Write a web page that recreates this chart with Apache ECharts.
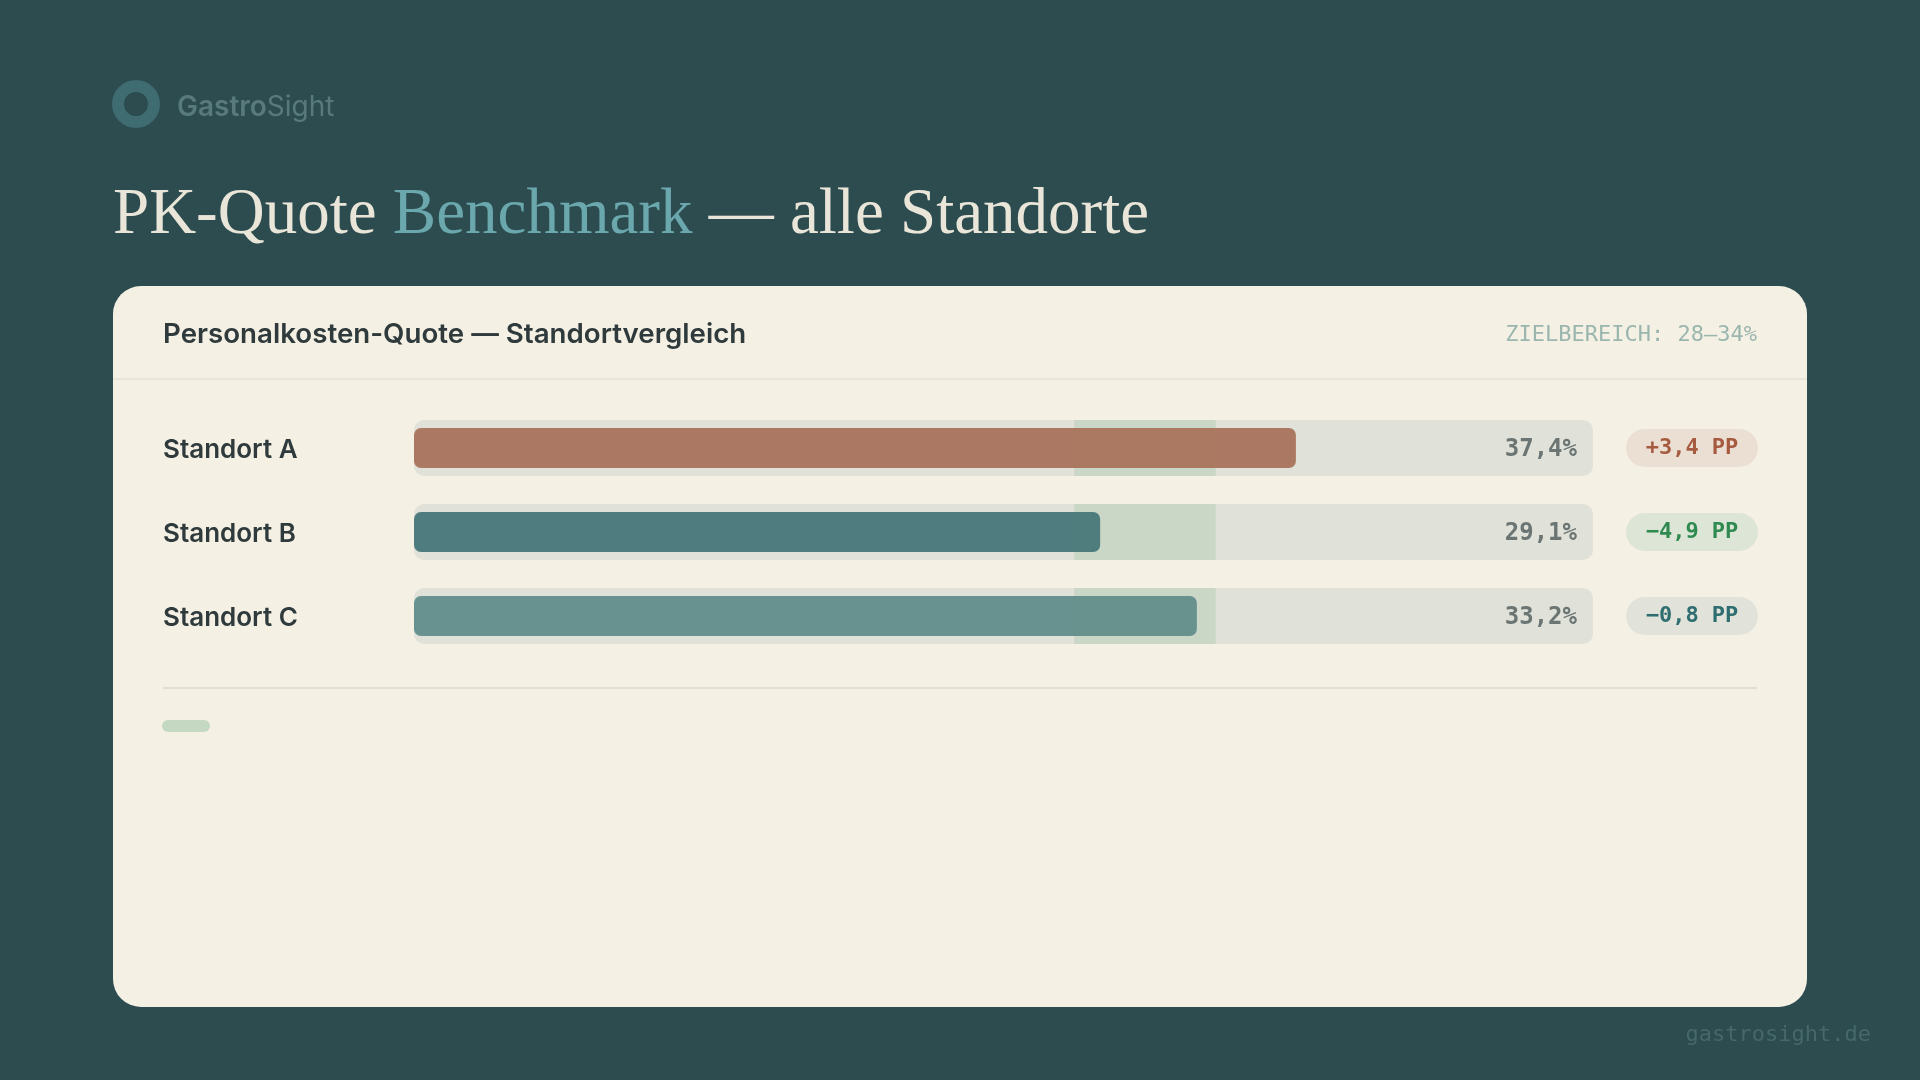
<!DOCTYPE html>
<html>
<head>
<meta charset="utf-8">
<script src="https://cdn.jsdelivr.net/npm/echarts@6/dist/echarts.min.js"></script>
<style>
html,body{margin:0;padding:0;background:#2c4c4f;}
#chart{width:1920px;height:1080px;}
</style>
</head>
<body>
<div id="chart"></div>
<script>
// ---- data ----
const categories = ['Standort A', 'Standort B', 'Standort C'];
const pkQuote = [37.4, 29.1, 33.2];
const valueLabels = ['37,4%', '29,1%', '33,2%'];
const deltaLabels = ['+3,4 PP', '\u22124,9 PP', '\u22120,8 PP'];
const targetRange = [28, 34];
const axisMax = 50;

// ---- styles ----
const barColors = ['#a9755f', '#4a7a7c', '#638f8c'];
const badgeKeys = ['a', 'b', 'c'];
const mono = '"DejaVu Sans Mono", "Liberation Mono", monospace';
const sans = 'Inter, "Noto Sans", sans-serif';
const serif = '"Liberation Serif", "DejaVu Serif", serif';

const chart = echarts.init(document.getElementById('chart'));

const option = {
  backgroundColor: '#2c4c4f',
  animation: false,
  graphic: [
    { type: 'rect', z: -100, shape: { x: 113, y: 286, width: 1694, height: 721, r: 28 }, style: { fill: '#f5f0e4' } },
    { type: 'ring', z: 10, shape: { cx: 136, cy: 104, r: 24, r0: 12 }, style: { fill: '#3e6c70' } },
    { type: 'text', z: 10, style: {
        x: 177, y: 108, text: '{b|Gastro}{n|Sight}', verticalAlign: 'middle',
        rich: {
          b: { font: '600 28px ' + sans, fill: '#587a7c' },
          n: { font: '400 28px ' + sans, fill: '#587a7c' }
        }
    } },
    { type: 'text', z: 10, style: {
        x: 113, y: 216, text: '{a|PK-Quote }{b|Benchmark}{a| \u2014 alle Standorte}', verticalAlign: 'middle',
        rich: {
          a: { font: '400 65px ' + serif, fill: '#e9e5d9' },
          b: { font: '400 65px ' + serif, fill: '#6ba8ae' }
        }
    } },
    { type: 'text', z: 10, style: {
        x: 163, y: 335, text: 'Personalkosten-Quote \u2014 Standortvergleich', verticalAlign: 'middle',
        font: '600 27.7px ' + sans, fill: '#2f3a3c'
    } },
    { type: 'text', z: 10, style: {
        x: 1757, y: 335, text: 'ZIELBEREICH: 28\u201334%', align: 'right', verticalAlign: 'middle',
        font: '400 22px ' + mono, fill: '#9ab6ae'
    } },
    { type: 'line', z: 10, shape: { x1: 113, y1: 379, x2: 1807, y2: 379 }, style: { stroke: '#e9e5da', lineWidth: 2 } },
    { type: 'line', z: 10, shape: { x1: 163, y1: 688, x2: 1757, y2: 688 }, style: { stroke: '#dfe0d5', lineWidth: 2 } },
    { type: 'rect', z: 10, shape: { x: 162, y: 720, width: 48, height: 12, r: 6 }, style: { fill: '#c5d8c2' } },
    { type: 'text', z: 10, style: {
        x: 1871, y: 1035, text: 'gastrosight.de', align: 'right', verticalAlign: 'middle',
        font: '400 22px ' + mono, fill: '#46686a'
    } }
  ],
  grid: { left: 414, width: 1179, top: 406, height: 252 },
  xAxis: { type: 'value', min: 0, max: axisMax, show: false },
  yAxis: [
    {
      type: 'category', data: categories, inverse: true,
      axisLine: { show: false }, axisTick: { show: false }, splitLine: { show: false },
      axisLabel: {
        interval: 0, align: 'left', margin: 251,
        formatter: function (v) { return '{n|' + v + '}'; },
        rich: { n: { color: '#2f3a3c', fontFamily: sans, fontWeight: 600, fontSize: 26, lineHeight: 30, padding: [5, 0, 0, 0] } }
      }
    },
    {
      type: 'category', data: categories, inverse: true, position: 'right',
      axisLine: { show: false }, axisTick: { show: false }, splitLine: { show: false },
      axisLabel: {
        interval: 0, align: 'left', margin: 33,
        formatter: function (v, i) { return '{' + badgeKeys[i] + '|' + deltaLabels[i] + '}'; },
        rich: {
          a: { width: 132, height: 38, lineHeight: 42, align: 'center', borderRadius: 19, backgroundColor: '#eadfd2', color: '#a65b41', fontFamily: mono, fontWeight: 'bold', fontSize: 22 },
          b: { width: 132, height: 38, lineHeight: 42, align: 'center', borderRadius: 19, backgroundColor: '#dde6d6', color: '#2f8a50', fontFamily: mono, fontWeight: 'bold', fontSize: 22 },
          c: { width: 132, height: 38, lineHeight: 42, align: 'center', borderRadius: 19, backgroundColor: '#e1e3da', color: '#2e6d70', fontFamily: mono, fontWeight: 'bold', fontSize: 22 }
        }
      }
    }
  ],
  series: [
    {
      name: 'track', type: 'bar', yAxisIndex: 0, barWidth: 56, barGap: '-100%', z: 2,
      data: categories.map(() => axisMax),
      itemStyle: { color: '#e0e1d8', borderRadius: 10 },
      label: {
        show: true, position: 'insideRight', distance: 16, offset: [0, 2],
        formatter: function (p) { return valueLabels[p.dataIndex]; },
        color: '#6b7573', fontFamily: mono, fontWeight: 'bold', fontSize: 24
      },
      emphasis: { disabled: true }
    },
    {
      name: 'base', type: 'bar', yAxisIndex: 0, stack: 'band', barWidth: 56, barGap: '-100%', z: 3,
      data: categories.map(() => targetRange[0]),
      itemStyle: { color: 'rgba(0,0,0,0)' }, emphasis: { disabled: true }
    },
    {
      name: 'Zielbereich', type: 'bar', yAxisIndex: 0, stack: 'band', barWidth: 56, barGap: '-100%', z: 3,
      data: categories.map(() => targetRange[1] - targetRange[0]),
      itemStyle: { color: '#cbd7c6' }, emphasis: { disabled: true }
    },
    {
      name: 'PK-Quote', type: 'bar', yAxisIndex: 1, barWidth: 40, z: 4,
      data: pkQuote.map((v, i) => ({ value: v, itemStyle: { color: barColors[i] } })),
      itemStyle: { borderRadius: 7, opacity: 0.97 }, emphasis: { disabled: true }
    }
  ]
};
chart.setOption(option);
</script>
</body>
</html>
